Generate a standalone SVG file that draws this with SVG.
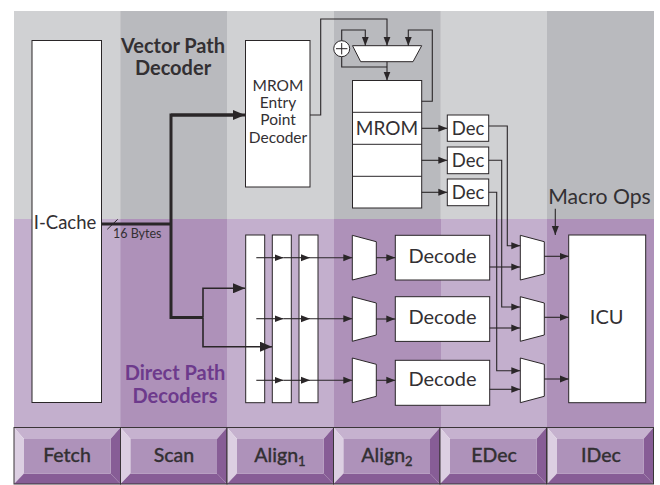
<svg xmlns="http://www.w3.org/2000/svg" width="660" height="485" viewBox="0 0 660 485">
<style>
text{font-family:"Lato","Open Sans","Liberation Sans",sans-serif;fill:#333033}
.box{fill:#fff;stroke:#2a2628;stroke-width:1}
.t20{font-size:20px;text-anchor:middle}
.t18{font-size:18.500px;text-anchor:middle}
.t16{font-size:15.500px;text-anchor:middle}
.hd{font-size:20px;font-weight:700;text-anchor:middle}
.st{font-size:19.500px;font-weight:500;text-anchor:middle;stroke:#333033;stroke-width:.3}
.w{fill:none;stroke:#2a2628;stroke-width:1.1}
.a{marker-end:url(#ah)}
.th{fill:none;stroke:#2a2628;stroke-width:3}
.m{fill:none;stroke:#2a2628;stroke-width:1.6}
.bt{fill:#c6b2cf}.bl{fill:#dccfe2}.br{fill:#875d96}.bb{fill:#875d96}.bc{fill:#ae92ba}
</style>
<defs>
<marker id="ah" markerUnits="userSpaceOnUse" markerWidth="9" markerHeight="8" refX="9" refY="4" orient="auto"><path d="M0 .5L9 4L0 7.500Z" fill="#2a2628"/></marker>
<marker id="ahl" markerUnits="userSpaceOnUse" markerWidth="12" markerHeight="10" refX="12" refY="5" orient="auto"><path d="M0 0L12 5L0 10Z" fill="#2a2628"/></marker>
<g id="btn"><path class="bt" d="M0 0H106.500L96.500 11.500H10Z"/><path class="bl" d="M0 0L10 11.500V46L0 56.500Z"/><path class="br" d="M106.500 0V56.500L96.500 46V11.500Z"/><path class="bb" d="M0 56.500L10 46H96.500L106.500 56.500Z"/><rect class="bc" x="10" y="11.500" width="86.500" height="34.500"/><rect x="0" y="0" width="106.500" height="56.500" fill="none" stroke="#3a3538" stroke-width="1"/></g>
</defs>
<rect width="660" height="485" fill="#fff"/>
<g id="bands">
<rect x="14" y="11" width="640" height="208" fill="#d0d1d3"/>
<rect x="120.500" y="11" width="106.500" height="208" fill="#b9babe"/>
<rect x="334" y="11" width="106.500" height="208" fill="#b9babe"/>
<rect x="547" y="11" width="107" height="208" fill="#b9babe"/>
<rect x="14" y="219" width="640" height="208" fill="#c3afcd"/>
<rect x="120.500" y="219" width="106.500" height="208" fill="#ae91b9"/>
<rect x="334" y="219" width="107" height="208" fill="#ae91b9"/>
<rect x="547" y="219" width="107" height="208" fill="#ae91b9"/>
</g>
<g id="icache"><rect class="box" x="32" y="40.500" width="69.500" height="362"/><text x="65" y="229" font-size="18.500" text-anchor="middle">I-Cache</text></g>
<g id="mrom-entry"><rect class="box" x="245.500" y="40.500" width="64.500" height="146.500"/><text class="t16" x="278" y="91">MROM</text><text class="t16" x="278" y="108">Entry</text><text class="t16" x="278" y="125">Point</text><text class="t16" x="278" y="143">Decoder</text></g>
<g id="adder"><circle cx="341.700" cy="48.700" r="8" fill="#fff" stroke="#2a2628"/><path d="M336 48.700H347.400M341.700 43V54.400" stroke="#2a2628" fill="none"/></g>
<g id="mrom-mux"><path class="box" d="M352.500 45.700H421.700L413 61.700H360.700Z"/></g>
<g id="mrom"><rect class="box" x="352.500" y="80.500" width="69.200" height="127.500"/><path d="M352.500 112.300H421.700M352.500 144.300H421.700M352.500 176.300H421.700" stroke="#2a2628" fill="none"/><text x="387" y="135" font-size="19" text-anchor="middle">MROM</text></g>
<g id="dec1"><rect class="box" x="447.300" y="115" width="41.400" height="26.300"/><text class="t18" x="468" y="135">Dec</text></g>
<g id="dec2"><rect class="box" x="447.300" y="147" width="41.400" height="26.700"/><text class="t18" x="468" y="167">Dec</text></g>
<g id="dec3"><rect class="box" x="447.300" y="179" width="41.400" height="26.700"/><text class="t18" x="468" y="199">Dec</text></g>
<g id="align-bar1"><rect class="box" x="245.700" y="235" width="19" height="167.700"/></g>
<g id="align-bar2"><rect class="box" x="272.300" y="235" width="19" height="167.700"/></g>
<g id="align-bar3"><rect class="box" x="299" y="235" width="19" height="167.700"/></g>
<g id="mux-a1"><path class="box" d="M352.300 235.300L376.300 241.700V274L352.300 280Z"/></g>
<g id="mux-a2"><path class="box" d="M352.300 296.700L376.300 303V335L352.300 341.300Z"/></g>
<g id="mux-a3"><path class="box" d="M352.300 358L376.300 364.300V396.300L352.300 402.700Z"/></g>
<g id="decode1"><rect class="box" x="395.300" y="235.300" width="94.400" height="44.700"/><text class="t20" x="442.500" y="262.700">Decode</text></g>
<g id="decode2"><rect class="box" x="395.300" y="296.700" width="94.400" height="44.700"/><text class="t20" x="442.500" y="323.700">Decode</text></g>
<g id="decode3"><rect class="box" x="395.300" y="360.300" width="94.400" height="45"/><text class="t20" x="442.500" y="385.700">Decode</text></g>
<g id="mux-e1"><path class="box" d="M520.300 235.300L544.300 241.700V274L520.300 280Z"/></g>
<g id="mux-e2"><path class="box" d="M520.300 296.700L544.300 303V335L520.300 341.300Z"/></g>
<g id="mux-e3"><path class="box" d="M520.300 358L544.300 364.300V396.300L520.300 402.700Z"/></g>
<g id="icu"><rect class="box" x="568.700" y="235" width="77" height="167.700"/><text class="t20" x="606.700" y="323.700">ICU</text></g>
<g id="connectors">
<path class="th" d="M102 224H171M236 115H171V317.500H203"/>
<path d="M171 115H245" class="th" style="marker-end:url(#ahl)"/>
<path class="m" d="M203 317.500V288.300H245" style="marker-end:url(#ahl)"/>
<path class="m" d="M203 317.500V346.700H272" style="marker-end:url(#ahl)"/>
<path d="M107.300 229.300L117.700 219.300" stroke="#2a2628" fill="none"/>
<path class="w a" d="M310 115H320.700V19H387V45.700"/>
<path class="w a" d="M341.700 40.700V30H365.300V45.700"/>
<path class="w" d="M341.700 56.700V67H387"/>
<path class="w a" d="M387 61.700V80.500"/>
<path class="w a" d="M421.700 101.300H432.300V30H408.300V45.700"/>
<path class="w a" d="M421.700 128.300H447.300"/>
<path class="w a" d="M421.700 160.300H447.300"/>
<path class="w a" d="M421.700 192.300H447.300"/>
<path class="w a" d="M488.700 126H507.300V245.700H520.300"/>
<path class="w a" d="M488.700 160.300H501.700V307H520.300"/>
<path class="w a" d="M488.700 192.300H496.700V370.700H520.300"/>
<path class="w a" d="M256.300 257.700H283.500"/><path class="w a" d="M283.500 257.700H310"/><path class="w a" d="M310 257.700H352.300"/>
<path class="w a" d="M256.300 318.700H283.500"/><path class="w a" d="M283.500 318.700H310"/><path class="w a" d="M310 318.700H352.300"/>
<path class="w a" d="M256.300 380.300H283.500"/><path class="w a" d="M283.500 380.300H310"/><path class="w a" d="M310 380.300H352.300"/>
<path class="w a" d="M376.300 257.700H395.300"/>
<path class="w a" d="M376.300 319H395.300"/>
<path class="w a" d="M376.300 380.300H395.300"/>
<path class="w a" d="M489.700 267H520.300"/>
<path class="w a" d="M489.700 328H520.300"/>
<path class="w a" d="M489.700 389.300H520.300"/>
<path class="w a" d="M544.300 256.300H568.700"/>
<path class="w a" d="M544.300 317.300H568.700"/>
<path class="w a" d="M544.300 379H568.700"/>
<path class="w a" d="M555.300 208.700V235"/>
</g>
<g id="labels">
<text x="113" y="237.500" font-size="12.500">16 Bytes</text>
<text class="hd" x="173" y="53">Vector Path</text>
<text class="hd" x="173" y="75">Decoder</text>
<text class="hd" x="175" y="380" style="fill:#6d3a8c">Direct Path</text>
<text class="hd" x="175" y="403" style="fill:#6d3a8c">Decoders</text>
<text x="599.500" y="204.300" font-size="21.200" text-anchor="middle">Macro Ops</text>
</g>
<g id="stage-fetch"><use href="#btn" x="14" y="427.500"/><text class="st" x="67" y="462">Fetch</text></g>
<g id="stage-scan"><use href="#btn" x="120.500" y="427.500"/><text class="st" x="174" y="462">Scan</text></g>
<g id="stage-align1"><use href="#btn" x="227" y="427.500"/><text class="st" x="280" y="462">Align<tspan font-size="13" dy="4">1</tspan></text></g>
<g id="stage-align2"><use href="#btn" x="333.500" y="427.500"/><text class="st" x="387" y="462">Align<tspan font-size="13" dy="4">2</tspan></text></g>
<g id="stage-edec"><use href="#btn" x="440" y="427.500"/><text class="st" x="494" y="462">EDec</text></g>
<g id="stage-idec"><use href="#btn" x="547" y="427.500"/><text class="st" x="601" y="462">IDec</text></g>
</svg>
